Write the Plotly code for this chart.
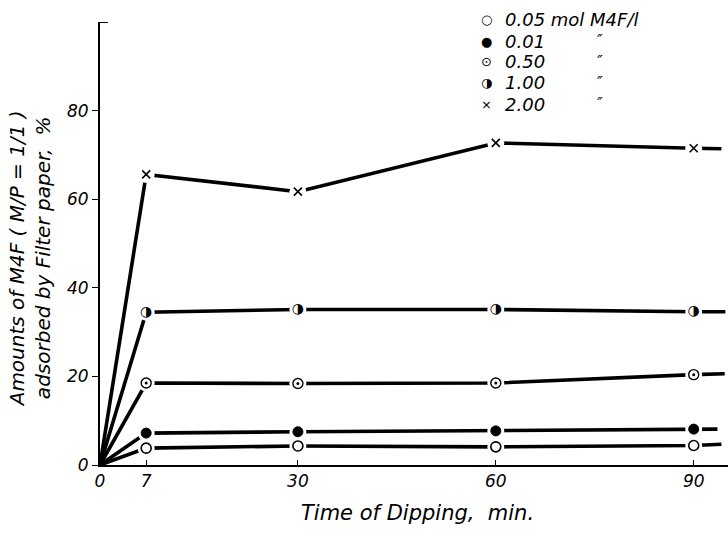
import plotly.graph_objects as go

# Dipping time (min) and adsorbed amount (%) for each M4F concentration
times = [0, 7, 30, 60, 90]
conc_labels = ["0.05", "0.01", "0.50", "1.00", "2.00"]

ads_005 = [0, 3.8, 4.3, 4.1, 4.4]
ads_001 = [0, 7.2, 7.5, 7.7, 8.1]
ads_050 = [0, 18.5, 18.4, 18.5, 20.4]
ads_100 = [0, 34.5, 35.1, 35.1, 34.6]
ads_200 = [0, 65.6, 61.7, 72.7, 71.5]

# where each curve is carried on past the last measurement
tail_x = [94.2, 93.6, 94.7, 94.8, 94.2]
tail_y = [4.7, 8.1, 20.6, 34.6, 71.4]

x_ticks = [0, 7, 30, 60, 90]
y_ticks = [0, 20, 40, 60, 80]

series = [ads_005, ads_001, ads_050, ads_100, ads_200]

FONT = "DejaVu Sans"
fig = go.Figure()

# curves
for ys, tx, ty in zip(series, tail_x, tail_y):
    fig.add_trace(go.Scatter(
        x=times + [tx], y=ys + [ty], mode="lines",
        line=dict(color="black", width=3.6), showlegend=False,
        hoverinfo="skip", cliponaxis=False))

# white halos leave a gap in the curve around each symbol
for ys in series:
    fig.add_trace(go.Scatter(
        x=times[1:], y=ys[1:], mode="markers",
        marker=dict(symbol="circle", size=17, color="white",
                    line=dict(width=0)),
        showlegend=False, hoverinfo="skip", cliponaxis=False))

# 0.05: open circle
fig.add_trace(go.Scatter(
    x=times[1:], y=ads_005[1:], mode="markers",
    marker=dict(symbol="circle", size=10, color="white",
                line=dict(color="black", width=1.6)),
    showlegend=False, cliponaxis=False))
# 0.01: filled circle
fig.add_trace(go.Scatter(
    x=times[1:], y=ads_001[1:], mode="markers",
    marker=dict(symbol="circle", size=10, color="black",
                line=dict(color="black", width=1)),
    showlegend=False, cliponaxis=False))
# 0.50: circle with centre dot
fig.add_trace(go.Scatter(
    x=times[1:], y=ads_050[1:], mode="markers",
    marker=dict(symbol="circle", size=10, color="white",
                line=dict(color="black", width=1.4)),
    showlegend=False, cliponaxis=False))
fig.add_trace(go.Scatter(
    x=times[1:], y=ads_050[1:], mode="markers",
    marker=dict(symbol="circle", size=3, color="black",
                line=dict(width=0)),
    showlegend=False, cliponaxis=False))
# 1.00: half-filled circle
fig.add_trace(go.Scatter(
    x=times[1:], y=ads_100[1:], mode="text", text=["◑"] * 4,
    textposition="middle center",
    textfont=dict(family=FONT, size=14, color="black"),
    showlegend=False, cliponaxis=False))
# 2.00: cross
fig.add_trace(go.Scatter(
    x=times[1:], y=ads_200[1:], mode="markers",
    marker=dict(symbol="x-thin", size=8,
                line=dict(color="black", width=1.6)),
    showlegend=False, cliponaxis=False))

tick_font = dict(family=FONT, size=17, color="black", style="italic")

fig.update_xaxes(
    range=[0, 95.2], tickvals=x_ticks, ticktext=[str(v) for v in x_ticks],
    ticks="inside", ticklen=5, tickwidth=1, tickcolor="black",
    showline=True, linecolor="black", linewidth=2,
    showgrid=False, zeroline=False, tickfont=tick_font)
fig.update_yaxes(
    range=[0, 100], tickvals=y_ticks, ticktext=[str(v) for v in y_ticks],
    ticks="outside", ticklen=6, tickwidth=1, tickcolor="black",
    showline=True, linecolor="black", linewidth=2,
    showgrid=False, zeroline=False, tickfont=tick_font)

# small serif at the top of the ordinate
fig.add_shape(type="line", xref="x", yref="y", x0=0, x1=1.2, y0=100, y1=100,
              line=dict(color="black", width=2))

annotations = []
# axis titles
annotations.append(dict(
    text="Time of Dipping,  min.", xref="paper", yref="paper",
    x=0.505, y=-0.108, xanchor="center", yanchor="middle", showarrow=False,
    font=dict(family=FONT, size=21, color="black", style="italic")))
annotations.append(dict(
    text="Amounts of M4F ( M/P = 1/1 )<br>adsorbed by Filter paper,  %",
    xref="paper", yref="paper", x=-0.068, y=0.465, xanchor="right",
    yanchor="middle", textangle=-90, showarrow=False, align="center",
    font=dict(family=FONT, size=20, color="black", style="italic")))

# key in the upper right corner
symbols = ["○", "●", "⊙", "◑", "×"]
row_y = [19, 41, 62, 83, 104]
for i, (sym, lab, ry) in enumerate(zip(symbols, conc_labels, row_y)):
    yp = 1 - (ry - 22) / 443.0
    annotations.append(dict(
        text=sym, xref="paper", yref="paper", x=(486 - 100) / 628.0, y=yp,
        xanchor="center", yanchor="middle", showarrow=False,
        font=dict(family=FONT, size=13, color="black")))
    annotations.append(dict(
        text=lab + (" mol M4F/l" if i == 0 else ""), xref="paper",
        yref="paper", x=(503 - 100) / 628.0, y=yp, xanchor="left",
        yanchor="middle", showarrow=False,
        font=dict(family=FONT, size=18, color="black", style="italic")))
    if i > 0:
        annotations.append(dict(
            text="″", xref="paper", yref="paper", x=(600 - 100) / 628.0,
            y=yp, xanchor="center", yanchor="middle", showarrow=False,
            font=dict(family=FONT, size=15, color="black", style="italic")))

fig.update_layout(
    width=728, height=533,
    margin=dict(l=100, r=0, t=22, b=68),
    paper_bgcolor="white", plot_bgcolor="white",
    showlegend=False, annotations=annotations,
    font=dict(family=FONT, color="black"))

fig.write_html("out.html")
